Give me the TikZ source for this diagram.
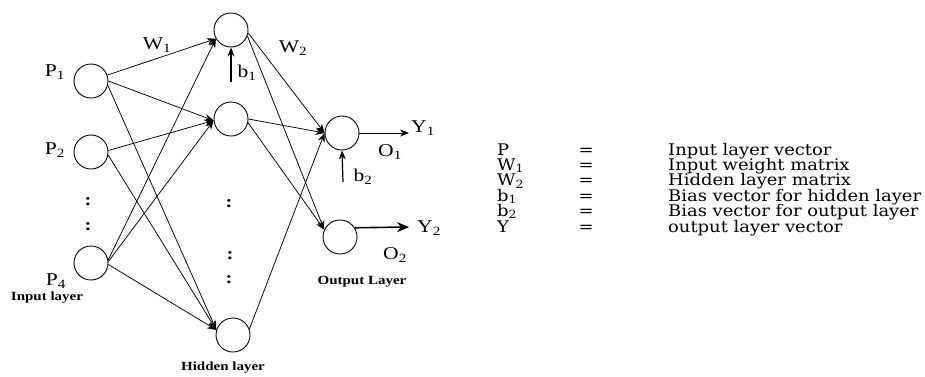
\documentclass[tikz,border=0pt]{standalone}
\usepackage{fontspec}
\setmainfont{Liberation Serif}
\newfontfamily\dfont[FakeStretch=1.2]{Liberation Serif}
\newfontfamily\tabfont[FakeStretch=1.12]{DejaVu Serif}
\usetikzlibrary{arrows.meta}
\begin{document}
\begin{tikzpicture}[x=1pt,y=-1pt,
  neuron/.style={circle,draw,line width=0.9pt,minimum size=34pt,inner sep=0pt},
  conn/.style={line width=0.75pt,-{Stealth[length=9pt,width=7pt]}},
  lbl/.style={font=\dfont\fontsize{18}{18}\selectfont,inner sep=0pt},
  dots/.style={font=\dfont\bfseries\fontsize{17}{17}\selectfont,inner sep=0pt},
  layerlbl/.style={font=\dfont\bfseries\fontsize{12.5}{12.5}\selectfont,inner sep=0pt},
  tab/.style={font=\tabfont\fontsize{16}{16}\selectfont,anchor=base west,inner sep=0pt},
  tabeq/.style={font=\tabfont\fontsize{16}{16}\selectfont,anchor=base,inner sep=0pt}]
\useasboundingbox (0,0) rectangle (925,376);
\fill[white] (0,0) rectangle (925,376);

% neurons
\node[neuron] (P1) at (91,81) {};
\node[neuron] (P2) at (91,152) {};
\node[neuron] (P4) at (91,263) {};
\node[neuron] (H1) at (231,30) {};
\node[neuron] (H2) at (231,119) {};
\node[neuron] (H3) at (233,335) {};
\node[neuron] (O1) at (342,133) {};
\node[neuron] (O2) at (340,237) {};

% input -> hidden
\draw[conn] (P1.20) -- (H1.210);
\draw[conn] (P1.0) -- (H2.185);
\draw[conn] (P1.-15) -- (H3.163);
\draw[conn] (P2.5) -- (H2.185);
\draw[conn] (P2.-10) -- (H3.163);
\draw[conn] (P4.10) -- (H1.210);
\draw[conn] (P4.5) -- (H2.185);
\draw[conn] (P4.-5) -- (H3.163);

% hidden -> output
\draw[conn] (H1.-10) -- (O1.180);
\draw[conn] (H1.-20) -- (O2.155);
\draw[conn] (H2.0) -- (O1.180);
\draw[conn] (H2.-12) -- (O2.155);
\draw[conn] (H3.20) -- (O1.180);

% biases
\coordinate (b1s) at (231,82);
\coordinate (b2s) at (343,182);
\draw[conn,line width=1.2pt] (b1s) -- (H1.south);
\draw[conn,line width=1.2pt] (b2s) -- (O1.south);

% outputs
\coordinate (y1e) at (409,133);
\coordinate (y2e) at (409,227);
\draw[conn] (O1.east) -- (y1e);
\draw[line width=1.6pt,-{Stealth[length=12pt,width=10pt]}] (O2.32) -- (y2e);

% labels
\node[lbl] (lP1) at (55,72) {P\textsubscript{1}};
\node[lbl] (lP2) at (55,150) {P\textsubscript{2}};
\node[lbl] (lP4) at (56,281) {P\textsubscript{4}};
\node[lbl] (lW1) at (157,45) {W\textsubscript{1}};
\node[lbl] (lW2) at (293,48) {W\textsubscript{2}};
\node[lbl] (lb1) at (247,73) {b\textsubscript{1}};
\node[lbl] (lb2) at (363,177) {b\textsubscript{2}};
\node[lbl] (lY1) at (423,128) {Y\textsubscript{1}};
\node[lbl] (lO1) at (390,152) {O\textsubscript{1}};
\node[lbl] (lY2) at (429,228) {Y\textsubscript{2}};
\node[lbl] (lO2) at (395,255) {O\textsubscript{2}};

\node[layerlbl] (lin) at (47,298) {Input layer};
\node[layerlbl] (lhid) at (223,368) {Hidden layer};
\node[layerlbl] (lout) at (362,282) {Output Layer};

% dots
\node[dots] (d1) at (88,202) {:};
\node[dots] (d2) at (88,227) {:};
\node[dots] (d3) at (229,204) {:};
\node[dots] (d4) at (230,256) {:};
\node[dots] (d5) at (229,280) {:};

% legend table
\node[tab] (t1a) at (497,155) {P};
\node[tab] (t2a) at (497,170) {W\textsubscript{1}};
\node[tab] (t3a) at (497,185.5) {W\textsubscript{2}};
\node[tab] (t4a) at (497,201) {b\textsubscript{1}};
\node[tab] (t5a) at (497,216) {b\textsubscript{2}};
\node[tab] (t6a) at (497,232) {Y};
\node[tabeq] (t1b) at (586,155) {=};
\node[tabeq] (t2b) at (586,170) {=};
\node[tabeq] (t3b) at (586,185.5) {=};
\node[tabeq] (t4b) at (586,201) {=};
\node[tabeq] (t5b) at (586,216) {=};
\node[tabeq] (t6b) at (586,232) {=};
\node[tab] (t1c) at (668,155) {Input layer vector};
\node[tab] (t2c) at (668,170) {Input weight matrix};
\node[tab] (t3c) at (668,185.5) {Hidden layer matrix};
\node[tab] (t4c) at (668,201) {Bias vector for hidden layer};
\node[tab] (t5c) at (668,216) {Bias vector for output layer};
\node[tab] (t6c) at (668,232) {output layer vector};
\end{tikzpicture}
\end{document}
